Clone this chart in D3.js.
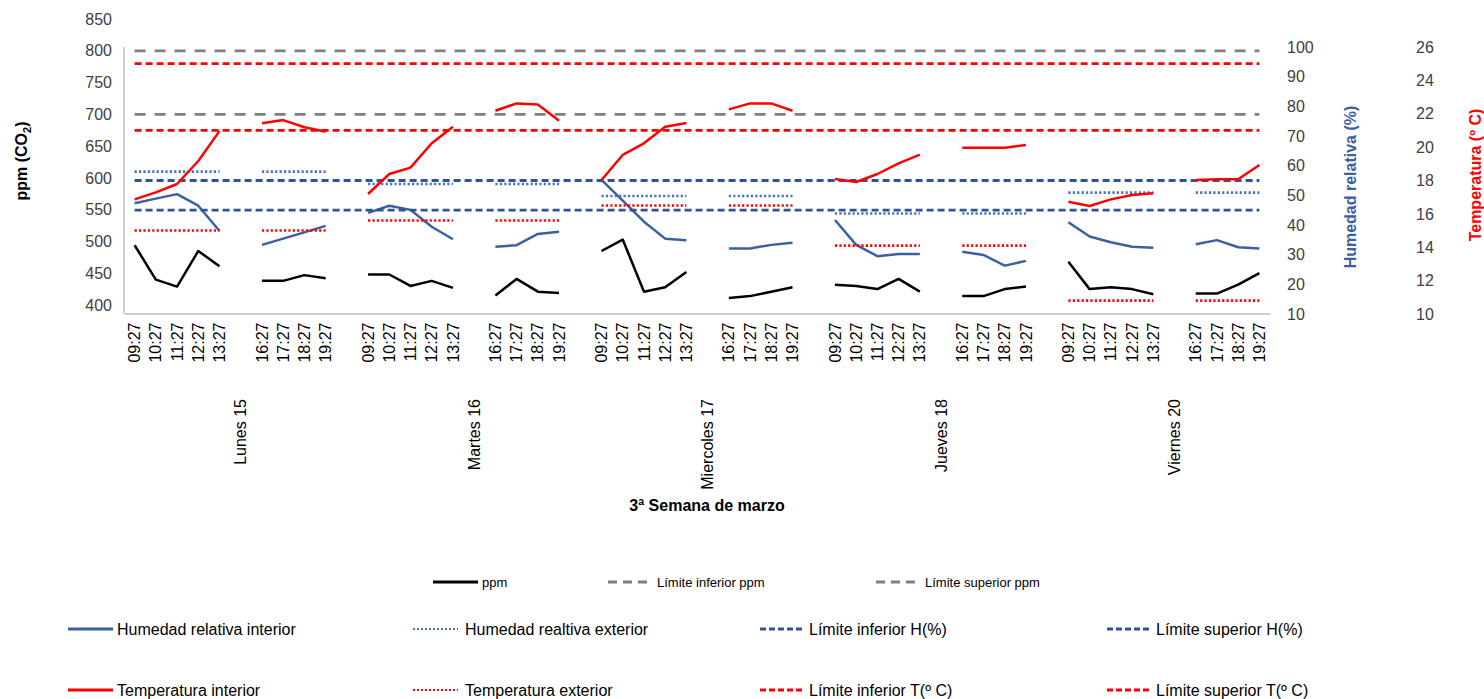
<!DOCTYPE html>
<html>
<head>
<meta charset="utf-8">
<script src="https://cdn.jsdelivr.net/npm/d3@7"></script>
<style>
  body { margin: 0; background: #fff; }
  svg { font-family: "Liberation Sans", Arial, sans-serif; }
  .tick-num { font-size: 16px; fill: #404040; }
  .legend text { fill: #000; font-family: "Liberation Sans Narrow", "Arial Narrow", "Liberation Sans", sans-serif; }
</style>
</head>
<body>
<div id="chart"></div>
<script>
// CO2 / humedad / temperatura - 3a semana de marzo

const days = ['Lunes 15', 'Martes 16', 'Miercoles 17', 'Jueves 18', 'Viernes 20'];
const morningTimes = ['09:27', '10:27', '11:27', '12:27', '13:27'];
const afternoonTimes = ['16:27', '17:27', '18:27', '19:27'];

// 9 readings per day: 5 morning + 4 afternoon
const ppm = [
    [494, 440, 429, 485, 461, 438, 438, 447, 442],
    [448, 448, 430, 438, 427, 415, 441, 421, 419],
    [485, 503, 421, 428, 452, 411, 414, 421, 428],
    [432, 430, 425, 441, 421, 414, 414, 425, 429],
    [468, 425, 428, 425, 417, 418, 418, 432, 450]
];
const humInterior = [
    [47.3, 48.9, 50.4, 46.5, 38.0, 33.3, 35.4, 37.5, 39.7],
    [44.1, 46.5, 45.1, 39.4, 35.2, 32.7, 33.2, 37.0, 37.7],
    [55.2, 48.2, 41.1, 35.4, 34.9, 32.1, 32.1, 33.3, 34.0],
    [41.7, 33.3, 29.5, 30.2, 30.2, 31.0, 29.9, 26.3, 27.9],
    [40.9, 36.1, 34.2, 32.7, 32.3, 33.5, 34.9, 32.5, 32.1]
];
const tempInterior = [
    [16.87, 17.29, 17.79, 19.17, 20.96, 21.43, 21.62, 21.19, 20.92],
    [17.19, 18.39, 18.77, 20.23, 21.22, 22.18, 22.62, 22.56, 21.58],
    [18.03, 19.53, 20.23, 21.22, 21.44, 22.26, 22.62, 22.62, 22.18],
    [18.09, 17.91, 18.39, 19.03, 19.55, 19.96, 19.96, 19.96, 20.13],
    [16.73, 16.47, 16.87, 17.13, 17.23, 18.03, 18.07, 18.07, 18.93]
];
// exterior readings: [morning, afternoon] per day
const humExterior = [[58, 58], [53.8, 53.8], [49.8, 49.8], [43.9, 43.9], [50.9, 50.9]];
const tempExterior = [[15, 15], [15.6, 15.6], [16.5, 16.5], [14.1, 14.1], [10.8, 10.8]];

const ppmLower = 700, ppmUpper = 800;
const humLower = 45, humUpper = 55;
const tempLower = 21, tempUpper = 25;

const ppmTicks = d3.range(400, 851, 50);
const humTicks = d3.range(10, 101, 10);
const tempTicks = d3.range(10, 27, 2);

// build category slots: 5 morning, gap, 4 afternoon, gap
const slots = [];
days.forEach((day, di) => {
    morningTimes.forEach(t => slots.push({ key: `${day}|${t}`, label: t, day: di }));
    slots.push({ key: `${day}|gapA`, label: '', day: di, dayLabel: day });
    afternoonTimes.forEach(t => slots.push({ key: `${day}|${t}`, label: t, day: di }));
    if (di < days.length - 1) slots.push({ key: `${day}|gapB`, label: '', day: di });
});

const W = 1484, H = 699;
const svg = d3.select('#chart').append('svg').attr('width', W).attr('height', H);

const x = d3.scaleBand().domain(slots.map(s => s.key)).range([124, 1270]);
const cx = k => x(k) + x.bandwidth() / 2;
const yPpm = d3.scaleLinear().domain([400, 850]).range([305, 19]);
const yHum = d3.scaleLinear().domain([10, 100]).range([314, 47]);
const yTemp = d3.scaleLinear().domain([10, 26]).range([314, 47]);

const colors = {
    ppm: '#000000', ppmLim: '#7f7f7f',
    hum: '#3c5fa3', humExt: '#4472c4', humLim: '#2f5597',
    temp: '#ff0000'
};

// axes
const gL = svg.append('g').attr('transform', 'translate(112,0)')
    .call(d3.axisLeft(yPpm).tickValues(ppmTicks).tickSize(0).tickPadding(0));
gL.select('.domain').remove();
gL.selectAll('text').attr('class', 'tick-num').attr('font-family', null).attr('font-size', null);

const gH = svg.append('g').attr('transform', 'translate(1287,0)')
    .call(d3.axisRight(yHum).tickValues(humTicks).tickSize(0).tickPadding(0));
gH.select('.domain').remove();
gH.selectAll('text').attr('class', 'tick-num').attr('font-family', null).attr('font-size', null);

const gT = svg.append('g').attr('transform', 'translate(1416,0)')
    .call(d3.axisRight(yTemp).tickValues(tempTicks).tickSize(0).tickPadding(0));
gT.select('.domain').remove();
gT.selectAll('text').attr('class', 'tick-num').attr('font-family', null).attr('font-size', null);

// plot frame lines
svg.append('line').attr('x1', 124).attr('x2', 124).attr('y1', 47).attr('y2', 313.5)
    .attr('stroke', '#bfbfbf').attr('stroke-width', 1.5);

const gX = svg.append('g').attr('transform', 'translate(0,313.5)')
    .call(d3.axisBottom(x).tickSize(0).tickFormat(k => slots.find(s => s.key === k).label));
gX.select('.domain').attr('stroke', '#bfbfbf').attr('stroke-width', 1.5);
gX.selectAll('text')
    .attr('font-family', null).attr('font-size', 16).attr('fill', '#000')
    .attr('transform', 'rotate(-90)')
    .attr('text-anchor', 'end')
    .attr('x', -9).attr('y', 0).attr('dy', '0.35em');

// day labels
svg.append('g').selectAll('text')
    .data(slots.filter(s => s.dayLabel))
    .join('text')
    .attr('transform', d => `translate(${cx(d.key)},399) rotate(-90)`)
    .attr('text-anchor', 'end').attr('dy', '0.35em')
    .attr('font-size', 16).attr('fill', '#000')
    .text(d => d.dayLabel);

// axis titles
svg.append('text').attr('x', 707).attr('y', 511).attr('text-anchor', 'middle')
    .attr('font-size', 16).attr('font-weight', 'bold').text('3ª Semana de marzo');

const tPpm = svg.append('text').attr('transform', 'translate(27,161) rotate(-90)')
    .attr('text-anchor', 'middle').attr('font-size', 16).attr('font-weight', 'bold');
tPpm.append('tspan').text('ppm (CO');
tPpm.append('tspan').attr('font-size', 11).attr('dy', 4).text('2');
tPpm.append('tspan').attr('dy', -4).text(')');

svg.append('text').attr('transform', 'translate(1356,187) rotate(-90)')
    .attr('text-anchor', 'middle').attr('font-size', 16).attr('font-weight', 'bold')
    .attr('fill', colors.hum).text('Humedad relativa (%)');

svg.append('text').attr('transform', 'translate(1481,175) rotate(-90)')
    .attr('text-anchor', 'middle').attr('font-size', 16).attr('font-weight', 'bold')
    .attr('fill', colors.temp).text('Temperatura (º C)');

// helpers
const plot = svg.append('g');

function sessionPoints(values, di) {
    const day = days[di];
    const times = morningTimes.concat(afternoonTimes);
    const pts = times.map((t, i) => ({ key: `${day}|${t}`, v: values[i] }));
    return [pts.slice(0, 5), pts.slice(5)];
}

function drawSeries(data, yScale, color, width, dash) {
    const line = d3.line().x(d => cx(d.key)).y(d => yScale(d.v));
    data.forEach((dayVals, di) => {
        sessionPoints(dayVals, di).forEach(seg => {
            plot.append('path').datum(seg)
                .attr('d', line)
                .attr('fill', 'none')
                .attr('stroke', color)
                .attr('stroke-width', width)
                .attr('stroke-linejoin', 'round')
                .attr('stroke-dasharray', dash || null);
        });
    });
}

function drawExterior(pairs, yScale, color) {
    const line = d3.line().x(d => cx(d.key)).y(d => yScale(d.v));
    pairs.forEach((pair, di) => {
        const day = days[di];
        const sessions = [morningTimes, afternoonTimes];
        sessions.forEach((times, si) => {
            const seg = times.map(t => ({ key: `${day}|${t}`, v: pair[si] }));
            plot.append('path').datum(seg)
                .attr('d', line)
                .attr('fill', 'none')
                .attr('stroke', color)
                .attr('stroke-width', 2.6)
                .attr('stroke-dasharray', '2.2,2.2');
        });
    });
}

function drawLimit(value, yScale, color, dash) {
    const seg = slots.map(s => ({ key: s.key, v: value }));
    plot.append('path').datum(seg)
        .attr('d', d3.line().x(d => cx(d.key)).y(d => yScale(d.v)))
        .attr('fill', 'none')
        .attr('stroke', color)
        .attr('stroke-width', 2.8)
        .attr('stroke-dasharray', dash);
}

drawSeries(ppm, yPpm, colors.ppm, 2.5);
drawLimit(ppmLower, yPpm, colors.ppmLim, '11,9');
drawLimit(ppmUpper, yPpm, colors.ppmLim, '11,9');
drawSeries(humInterior, yHum, colors.hum, 2.5);
drawExterior(humExterior, yHum, colors.humExt);
drawLimit(humLower, yHum, colors.humLim, '7,4');
drawLimit(humUpper, yHum, colors.humLim, '7,4');
drawSeries(tempInterior, yTemp, colors.temp, 2.5);
drawExterior(tempExterior, yTemp, colors.temp);
drawLimit(tempLower, yTemp, colors.temp, '7,4');
drawLimit(tempUpper, yTemp, colors.temp, '7,4');

// legend
const legendItems = [
    { label: 'ppm', color: colors.ppm, dash: null, x: 433, y: 582, fs: 13 },
    { label: 'Límite inferior ppm', color: colors.ppmLim, dash: '9,6', x: 608, y: 582, fs: 13 },
    { label: 'Límite superior ppm', color: colors.ppmLim, dash: '9,6', x: 876, y: 582, fs: 13 },
    { label: 'Humedad relativa interior', color: colors.hum, dash: null, x: 68, y: 629, fs: 16 },
    { label: 'Humedad realtiva exterior', color: colors.humExt, dash: '2,2', x: 413, y: 629, fs: 16 },
    { label: 'Límite inferior H(%)', color: colors.humLim, dash: '6,3', x: 760, y: 629, fs: 16 },
    { label: 'Límite superior H(%)', color: colors.humLim, dash: '6,3', x: 1107, y: 629, fs: 16 },
    { label: 'Temperatura interior', color: colors.temp, dash: null, x: 68, y: 690, fs: 16 },
    { label: 'Temperatura exterior', color: colors.temp, dash: '2,2', x: 413, y: 690, fs: 16 },
    { label: 'Límite inferior T(º C)', color: colors.temp, dash: '6,3', x: 760, y: 690, fs: 16 },
    { label: 'Límite superior T(º C)', color: colors.temp, dash: '6,3', x: 1107, y: 690, fs: 16 }
];

const legend = svg.append('g').attr('class', 'legend')
    .selectAll('g').data(legendItems).join('g')
    .attr('transform', d => `translate(${d.x},${d.y})`);

legend.append('line')
    .attr('x1', 0).attr('x2', 45).attr('y1', 0).attr('y2', 0)
    .attr('stroke', d => d.color)
    .attr('stroke-width', d => d.dash === '2,2' ? 2 : 3)
    .attr('stroke-dasharray', d => d.dash);

legend.append('text')
    .attr('x', d => d.dash === '2,2' ? 52 : 49)
    .attr('dy', '0.35em')
    .attr('font-size', d => d.fs)
    .text(d => d.label);
</script>
</body>
</html>
